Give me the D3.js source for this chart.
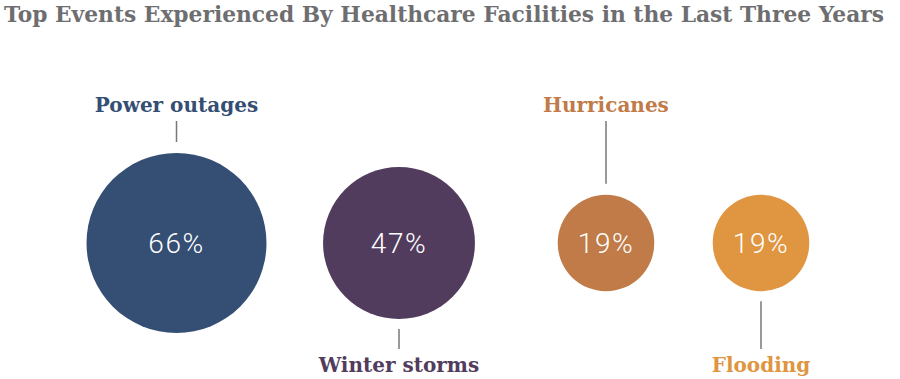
<!DOCTYPE html>
<html>
<head>
<meta charset="utf-8">
<script src="https://cdn.jsdelivr.net/npm/d3@7"></script>
<style>
  body { margin: 0; background: #fff; }
  svg { display: block; }
</style>
</head>
<body>
<svg id="chart" width="900" height="379"></svg>
<script>
// data
const events = ["Power outages", "Winter storms", "Hurricanes", "Flooding"];
const shares = [66, 47, 19, 19];
const colors = ["#354e73", "#523c5e", "#c07b48", "#e09541"];
const labelSide = ["top", "bottom", "top", "bottom"];

// layout
const centerX = [176.5, 399, 606, 761];
const centerY = 243;

let svg = d3.select("#chart");

let r_scale = d3.scaleSqrt()
    .domain([0, 66])
    .range([0, 90]);

// title
svg.append("text")
    .attr("x", 4)
    .attr("y", 22)
    .attr("font-family", "DejaVu Serif")
    .attr("font-weight", "bold")
    .attr("font-size", "22px")
    .attr("fill", "#6e6e70")
    .attr("textLength", 880)
    .attr("lengthAdjust", "spacingAndGlyphs")
    .text("Top Events Experienced By Healthcare Facilities in the Last Three Years");

let g = svg.append("g");

events.forEach((name, i) => {
    let cx = centerX[i];
    let r = r_scale(shares[i]);

    g.append("circle")
        .attr("cx", cx)
        .attr("cy", centerY)
        .attr("r", r)
        .attr("fill", colors[i]);

    g.append("text")
        .attr("x", cx)
        .attr("y", centerY)
        .attr("dy", "0.36em")
        .attr("text-anchor", "middle")
        .attr("font-family", "Roboto, 'Liberation Sans', sans-serif")
        .attr("font-weight", 300)
        .attr("font-size", "28px")
        .attr("letter-spacing", "1.5px")
        .attr("fill", "#fff")
        .text(shares[i] + "%");

    // connector + label
    let above = labelSide[i] === "top";
    let y1 = above ? 121 : centerY + r + 10;
    let y2 = above ? centerY - r - 11 : 349;
    g.append("line")
        .attr("x1", cx).attr("x2", cx)
        .attr("y1", y1).attr("y2", y2)
        .attr("stroke", "#777")
        .attr("stroke-width", 1.5);

    g.append("text")
        .attr("x", cx)
        .attr("y", above ? 112 : 372)
        .attr("text-anchor", "middle")
        .attr("font-family", "DejaVu Serif")
        .attr("font-weight", "bold")
        .attr("font-size", "20px")
        .attr("fill", colors[i])
        .text(name);
});
</script>
</body>
</html>
